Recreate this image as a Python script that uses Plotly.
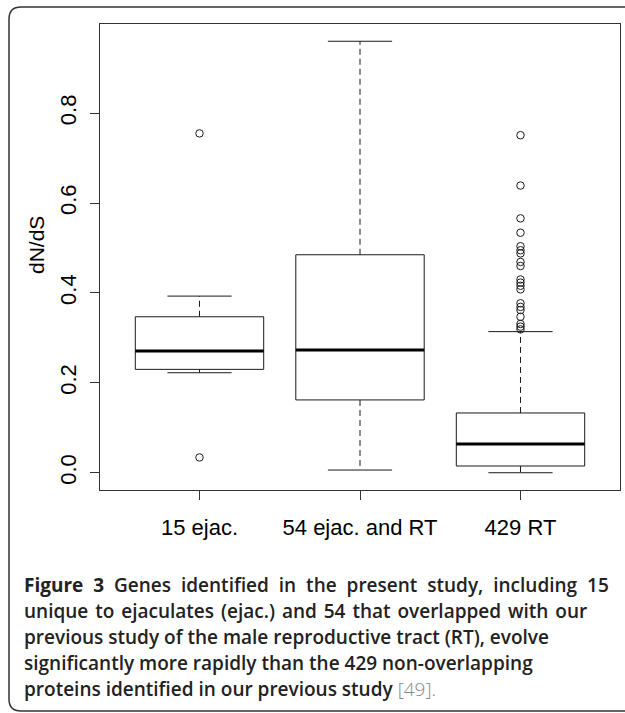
import plotly.graph_objects as go

# ---------------- data ----------------
categories = ["15 ejac.", "54 ejac. and RT", "429 RT"]
q1 = [0.230, 0.162, 0.015]
median = [0.271, 0.273, 0.064]
q3 = [0.347, 0.485, 0.133]
lower_whisker = [0.2225, 0.006, 0.000]
upper_whisker = [0.393, 0.960, 0.314]
outliers_15 = [0.755, 0.034]
outliers_54 = []
outliers_429 = [0.751, 0.639, 0.566, 0.534, 0.504, 0.495, 0.488, 0.469, 0.460,
                0.430, 0.423, 0.416, 0.408, 0.377, 0.369, 0.362, 0.347, 0.331,
                0.325, 0.319]
outliers = [outliers_15, outliers_54, outliers_429]
y_ticks = [0.0, 0.2, 0.4, 0.6, 0.8]
y_label = "dN/dS"
caption_lines = [
    "<span style=\"word-spacing:5px\"><b>Figure 3</b> Genes identified in the present study, including 15</span>",
    "<span style=\"word-spacing:2px\">unique to ejaculates (ejac.) and 54 that overlapped with our</span>",
    "previous study of the male reproductive tract (RT), evolve",
    "significantly more rapidly than the 429 non-overlapping",
    "proteins identified in our previous study "
    "<span style=\"font-weight:300;color:#888\">[49].</span>",
]

# ---------------- figure ----------------
W, H = 625, 713
L, R, T, B = 100, 5, 24, 223
half_box = 0.4
half_staple = 0.2
line_col = "#1a1a1a"

fig = go.Figure()
for i, cat in enumerate(categories):
    xc = i + 1
    # box outline
    fig.add_trace(go.Scatter(
        x=[xc - half_box, xc + half_box, xc + half_box, xc - half_box, xc - half_box],
        y=[q1[i], q1[i], q3[i], q3[i], q1[i]],
        mode="lines", line=dict(color=line_col, width=1), hoverinfo="skip", showlegend=False))
    # median
    fig.add_trace(go.Scatter(
        x=[xc - half_box, xc + half_box], y=[median[i], median[i]],
        mode="lines", line=dict(color="black", width=3), hoverinfo="skip", showlegend=False))
    # whiskers (dashed)
    fig.add_trace(go.Scatter(
        x=[xc, xc, None, xc, xc],
        y=[q3[i], upper_whisker[i], None, q1[i], lower_whisker[i]],
        mode="lines", line=dict(color=line_col, width=1, dash="6px,4px"),
        hoverinfo="skip", showlegend=False))
    # staples
    fig.add_trace(go.Scatter(
        x=[xc - half_staple, xc + half_staple, None, xc - half_staple, xc + half_staple],
        y=[upper_whisker[i], upper_whisker[i], None, lower_whisker[i], lower_whisker[i]],
        mode="lines", line=dict(color=line_col, width=1), hoverinfo="skip", showlegend=False))
    # outliers
    if outliers[i]:
        fig.add_trace(go.Scatter(
            x=[xc] * len(outliers[i]), y=outliers[i], mode="markers",
            marker=dict(symbol="circle-open", size=7.5, color=line_col, line=dict(width=1)),
            hoverinfo="skip", showlegend=False))

# R-style ranges (4% extension)
all_vals = lower_whisker + upper_whisker + [v for o in outliers for v in o]
ymin, ymax = min(all_vals), max(all_vals)
ext = 0.04 * (ymax - ymin)
n = len(categories)
xext = 0.04 * n

fig.update_layout(
    width=W, height=H,
    margin=dict(l=L, r=R, t=T, b=B, pad=0),
    paper_bgcolor="white", plot_bgcolor="white",
    font=dict(family="Liberation Sans, Arial, sans-serif", color="black"),
    xaxis=dict(range=[0.5 - xext, n + 0.5 + xext], tickvals=list(range(1, n + 1)),
               ticktext=categories, ticks="outside", ticklen=9, tickwidth=1,
               tickcolor="#333", showgrid=False, zeroline=False,
               showline=True, linecolor="#333", linewidth=1, mirror=True,
               tickfont=dict(size=22), ticklabelstandoff=9),
    yaxis=dict(range=[ymin - ext, ymax + ext], tickvals=y_ticks,
               ticktext=[f"{v:.1f}" for v in y_ticks],
               ticks="outside", ticklen=9, tickwidth=1, tickcolor="#333",
               tickangle=-90, showgrid=False, zeroline=False,
               showline=True, linecolor="#333", linewidth=1, mirror=True,
               tickfont=dict(size=22), ticklabelstandoff=5),
)

pw, ph = W - L - R, H - T - B
def px(x):
    return (x - L) / pw
def py(y):
    return (H - B - y) / ph

# y-axis label
fig.add_annotation(text=y_label, xref="paper", yref="paper", x=px(36), y=py(245),
                   xanchor="center", yanchor="middle", textangle=-90, showarrow=False,
                   font=dict(size=21))

# outer rounded frame
x0, x1, yt, yb = px(9), px(625), py(7), py(711)
rx, ry = 12 / pw, 12 / ph
path = (f"M {x1},{yt} L {x0 + rx},{yt} Q {x0},{yt} {x0},{yt - ry} "
        f"L {x0},{yb + ry} Q {x0},{yb} {x0 + rx},{yb} L {x1},{yb}")
fig.add_shape(type="path", path=path, xref="paper", yref="paper",
              line=dict(color="#333", width=1.5))

# caption, one annotation per line
line_y = [585, 611, 637, 663, 689]
for txt, ly in zip(caption_lines, line_y):
    fig.add_annotation(
        text=txt, xref="paper", yref="paper", x=px(22), y=py(ly),
        xanchor="left", yanchor="middle", align="left", showarrow=False,
        font=dict(family="Open Sans, Noto Sans, sans-serif", size=19, color="#222",
                  weight=600))

fig.write_html("out.html", config={"displayModeBar": False},
               post_script="document.body.style.margin='0';document.body.style.overflow='hidden';")
